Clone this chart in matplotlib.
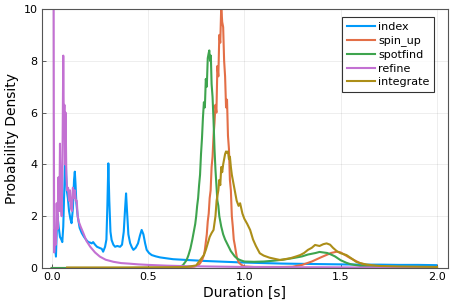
import matplotlib
matplotlib.use("Agg")
import matplotlib.pyplot as plt

series_names = ["index", "spin_up", "spotfind", "refine", "integrate"]
colors = ["#009AFA", "#E36F47", "#3EA44E", "#C371D2", "#AC8E18"]

index_x = [0.014, 0.022, 0.029, 0.036, 0.043, 0.050, 0.055, 0.060, 0.066, 0.070, 0.074, 0.078,
           0.084, 0.090, 0.097, 0.103, 0.110, 0.116, 0.120, 0.124, 0.128, 0.135, 0.145, 0.156,
           0.168, 0.180, 0.190, 0.200, 0.208, 0.215, 0.225, 0.235, 0.250, 0.260, 0.267, 0.277,
           0.284, 0.289, 0.294, 0.299, 0.305, 0.311, 0.320, 0.329, 0.340, 0.355, 0.365, 0.374,
           0.381, 0.386, 0.391, 0.398, 0.407, 0.416, 0.424, 0.436, 0.448, 0.458, 0.467, 0.476,
           0.485, 0.493, 0.505, 0.519, 0.540, 0.562, 0.600, 0.630, 0.700, 0.800, 0.900, 1.000,
           1.100, 1.200, 1.300, 1.400, 1.500, 1.600, 1.700, 1.800, 1.900, 1.995]
index_y = [1.15, 0.44, 2.10, 1.60, 1.20, 1.10, 1.00, 1.60, 3.20, 4.36, 3.90, 3.00,
           2.70, 2.20, 1.90, 1.73, 2.30, 3.40, 3.72, 3.20, 2.50, 2.00, 1.55, 1.35,
           1.20, 1.08, 1.00, 0.98, 0.95, 1.00, 0.90, 0.82, 0.77, 0.74, 0.63, 0.82,
           1.10, 2.40, 4.04, 2.60, 1.40, 1.08, 0.90, 0.82, 0.85, 0.82, 0.90, 1.40,
           2.30, 2.88, 2.20, 1.30, 0.96, 0.80, 0.70, 0.78, 0.95, 1.25, 1.47, 1.30,
           0.95, 0.70, 0.58, 0.50, 0.45, 0.41, 0.37, 0.34, 0.31, 0.27, 0.24, 0.21,
           0.19, 0.17, 0.16, 0.15, 0.14, 0.13, 0.13, 0.12, 0.12, 0.11]

spin_x = [0.000, 0.300, 0.600, 0.700, 0.740, 0.760, 0.770, 0.780, 0.790, 0.795, 0.800, 0.805,
          0.810, 0.815, 0.820, 0.825, 0.830, 0.835, 0.840, 0.845, 0.850, 0.855, 0.860, 0.865,
          0.870, 0.875, 0.880, 0.885, 0.890, 0.895, 0.900, 0.905, 0.910, 0.915, 0.920, 0.925,
          0.930, 0.935, 0.940, 0.945, 0.950, 0.960, 0.970, 0.985, 1.000, 1.050, 1.100, 1.150,
          1.200, 1.250, 1.300, 1.350, 1.400, 1.450, 1.480, 1.500, 1.550, 1.600, 1.650, 1.700,
          1.800, 1.900, 2.000]
spin_y = [0.00, 0.00, 0.00, 0.02, 0.05, 0.10, 0.18, 0.30, 0.50, 0.70, 1.00, 1.30,
          1.80, 2.10, 2.70, 3.00, 3.90, 4.30, 5.10, 5.60, 6.30, 6.00, 7.80, 7.40,
          9.00, 8.70, 10.10, 9.50, 9.30, 8.00, 7.40, 6.20, 6.50, 5.10, 4.60, 3.40,
          3.00, 2.00, 1.60, 1.10, 0.90, 0.45, 0.22, 0.12, 0.06, 0.04, 0.04, 0.04,
          0.04, 0.05, 0.12, 0.25, 0.42, 0.58, 0.63, 0.60, 0.38, 0.19, 0.08, 0.04,
          0.02, 0.01, 0.01]

spot_x = [0.000, 0.300, 0.600, 0.650, 0.680, 0.700, 0.710, 0.720, 0.730, 0.740, 0.745, 0.750,
          0.755, 0.760, 0.765, 0.770, 0.775, 0.780, 0.785, 0.790, 0.795, 0.800, 0.805, 0.810,
          0.815, 0.818, 0.822, 0.826, 0.830, 0.835, 0.840, 0.845, 0.850, 0.855, 0.860, 0.865,
          0.870, 0.875, 0.880, 0.890, 0.900, 0.910, 0.920, 0.930, 0.940, 0.950, 0.965, 0.980,
          1.000, 1.050, 1.100, 1.150, 1.200, 1.250, 1.280, 1.300, 1.330, 1.350, 1.370, 1.390,
          1.410, 1.430, 1.450, 1.470, 1.500, 1.530, 1.550, 1.600, 1.700, 1.800, 1.900, 2.000]
spot_y = [0.00, 0.00, 0.01, 0.02, 0.10, 0.30, 0.50, 0.75, 1.10, 1.50, 1.70, 2.00,
          2.40, 2.70, 3.20, 3.60, 4.40, 5.00, 5.80, 6.40, 6.20, 7.30, 7.00, 8.10,
          8.30, 8.40, 8.00, 8.20, 7.10, 6.60, 5.70, 4.60, 3.80, 3.20, 2.60, 2.40,
          2.00, 1.80, 1.60, 1.30, 1.10, 0.95, 0.80, 0.65, 0.55, 0.45, 0.35, 0.30,
          0.25, 0.24, 0.25, 0.28, 0.32, 0.38, 0.42, 0.45, 0.52, 0.55, 0.58, 0.62,
          0.60, 0.58, 0.52, 0.45, 0.30, 0.20, 0.15, 0.08, 0.04, 0.03, 0.02, 0.02]

refine_x = [0.009, 0.010, 0.011, 0.013, 0.017, 0.022, 0.026, 0.030, 0.035, 0.040, 0.043, 0.047,
            0.052, 0.056, 0.060, 0.063, 0.066, 0.069, 0.072, 0.076, 0.080, 0.085, 0.090, 0.095,
            0.100, 0.105, 0.110, 0.115, 0.120, 0.125, 0.130, 0.135, 0.140, 0.150, 0.164, 0.180,
            0.200, 0.225, 0.250, 0.280, 0.320, 0.360, 0.400, 0.450, 0.500, 0.600, 0.700, 0.800,
            0.900, 1.000, 1.200, 1.400, 1.600, 1.800, 2.000]
refine_y = [12.0, 12.0, 6.00, 0.60, 1.50, 0.90, 2.50, 1.50, 3.50, 2.20, 4.80, 2.60,
            2.00, 4.20, 8.20, 5.50, 6.30, 4.00, 6.00, 3.60, 3.00, 3.10, 2.60, 3.00,
            2.30, 2.20, 3.10, 2.70, 3.00, 2.60, 2.60, 2.00, 1.80, 1.60, 1.35, 1.05,
            0.82, 0.60, 0.44, 0.32, 0.24, 0.19, 0.17, 0.14, 0.12, 0.09, 0.07, 0.06,
            0.05, 0.04, 0.03, 0.03, 0.02, 0.02, 0.02]

integ_x = [0.080, 0.200, 0.400, 0.600, 0.700, 0.750, 0.770, 0.790, 0.800, 0.810, 0.820, 0.830,
           0.840, 0.850, 0.856, 0.865, 0.870, 0.875, 0.880, 0.885, 0.890, 0.895, 0.900, 0.905,
           0.910, 0.915, 0.920, 0.925, 0.930, 0.935, 0.940, 0.945, 0.950, 0.955, 0.960, 0.970,
           0.978, 0.990, 1.000, 1.015, 1.030, 1.045, 1.060, 1.080, 1.100, 1.130, 1.160, 1.185,
           1.210, 1.240, 1.270, 1.290, 1.310, 1.330, 1.350, 1.367, 1.390, 1.410, 1.427, 1.445,
           1.460, 1.480, 1.500, 1.530, 1.560, 1.580, 1.600, 1.630, 1.650, 1.700, 1.800, 1.900,
           2.000]
integ_y = [0.02, 0.02, 0.02, 0.03, 0.04, 0.10, 0.30, 0.50, 0.70, 0.95, 1.20, 1.35,
           1.47, 2.00, 2.60, 3.00, 3.40, 3.20, 3.90, 3.70, 4.00, 4.20, 4.40, 4.50,
           4.45, 4.50, 4.20, 4.30, 3.90, 3.60, 3.40, 3.20, 3.00, 2.80, 2.60, 2.40,
           2.50, 2.10, 1.90, 1.70, 1.47, 1.10, 0.85, 0.57, 0.48, 0.40, 0.35, 0.31,
           0.34, 0.38, 0.45, 0.50, 0.58, 0.70, 0.78, 0.89, 0.85, 0.92, 0.95, 0.90,
           0.78, 0.65, 0.57, 0.50, 0.35, 0.24, 0.19, 0.14, 0.12, 0.08, 0.06, 0.05,
           0.04]

xs = [index_x, spin_x, spot_x, refine_x, integ_x]
ys = [index_y, spin_y, spot_y, refine_y, integ_y]

xticks = [0.0, 0.5, 1.0, 1.5, 2.0]
xtick_labels = ["0.0", "0.5", "1.0", "1.5", "2.0"]
yticks = [0, 2, 4, 6, 8, 10]
ytick_labels = ["0", "2", "4", "6", "8", "10"]

plt.rcParams['font.family'] = ['DejaVu Sans']
fig = plt.figure(figsize=(4.57, 3.05), dpi=100)
ax = fig.add_axes([0.0912, 0.1213, 0.8891, 0.8492])

for name, c, x, y in zip(series_names, colors, xs, ys):
    ax.plot(x, y, color=c, lw=1.5, label=name)

ax.set_xlim(-0.052, 2.057)
ax.set_ylim(0, 10)
ax.set_xticks(xticks)
ax.set_xticklabels(xtick_labels)
ax.set_yticks(yticks)
ax.set_yticklabels(ytick_labels)
ax.grid(True, color="black", alpha=0.08, lw=0.6)
ax.tick_params(direction="in", length=3, width=0.6, labelsize=8, colors="#444444",
               labelcolor="black", pad=3)
for s in ax.spines.values():
    s.set_color("#555555")
    s.set_linewidth(0.8)
ax.set_xlabel("Duration [s]", fontsize=10, labelpad=3)
ax.set_ylabel("Probability Density", fontsize=10, labelpad=3)

leg = ax.legend(loc="upper right", bbox_to_anchor=(0.9665, 0.969), fontsize=8,
                frameon=True, fancybox=False, handlelength=2.5, handletextpad=0.25,
                labelspacing=0.32, borderpad=0.45, borderaxespad=0.0)
leg.get_frame().set_edgecolor("black")
leg.get_frame().set_linewidth(0.8)

fig.savefig("out.png", dpi=100)
